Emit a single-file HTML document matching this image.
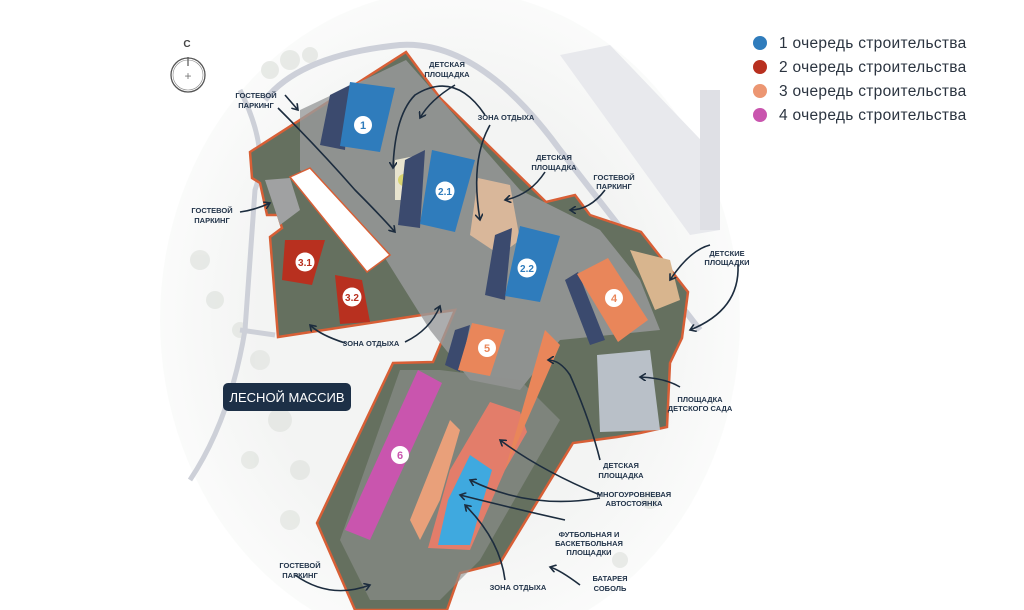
<!DOCTYPE html>
<html><head><meta charset="utf-8"><style>
html,body{margin:0;padding:0;background:#fff;overflow:hidden;width:1024px;height:610px;}
svg{display:block;}
.l{font-family:"Liberation Sans",sans-serif;font-weight:bold;font-size:7.5px;fill:#22344a;text-anchor:middle;}
.g{font-family:"Liberation Sans",sans-serif;font-size:15.5px;fill:#2b3440;letter-spacing:0.3px;}
.n{font-family:"Liberation Sans",sans-serif;font-weight:bold;font-size:11px;text-anchor:middle;}
.a{fill:none;stroke:#1c2c3e;stroke-width:1.6;}
</style></head><body>
<svg width="1024" height="610" viewBox="0 0 1024 610" xmlns="http://www.w3.org/2000/svg">
<defs>
<marker id="ah" markerWidth="8" markerHeight="8" refX="6" refY="4" orient="auto" markerUnits="userSpaceOnUse"><path d="M0,0 L6,4 L0,8" fill="none" stroke="#1c2c3e" stroke-width="1.6"/></marker>
<radialGradient id="fade" cx="0.5" cy="0.5" r="0.6"><stop offset="0.55" stop-color="#f3f4f3"/><stop offset="1" stop-color="#fff"/></radialGradient>
</defs>
<rect width="1024" height="610" fill="#fff"/>
<ellipse cx="450" cy="320" rx="290" ry="330" fill="url(#fade)"/>
<g fill="#e3e6e2" opacity="0.8">
<circle cx="290" cy="60" r="10"/><circle cx="310" cy="55" r="8"/><circle cx="270" cy="70" r="9"/>
<circle cx="200" cy="260" r="10"/><circle cx="215" cy="300" r="9"/><circle cx="260" cy="360" r="10"/><circle cx="280" cy="420" r="12"/>
<circle cx="300" cy="470" r="10"/><circle cx="250" cy="460" r="9"/><circle cx="290" cy="520" r="10"/><circle cx="240" cy="330" r="8"/>
<circle cx="650" cy="500" r="9"/><circle cx="620" cy="560" r="8"/>
</g>
<path d="M240,90 Q270,150 255,190 L245,330 Q230,420 190,480" stroke="#cdd0d8" stroke-width="5" fill="none"/>
<path d="M265,100 Q300,55 400,45 Q480,40 560,150 L700,330" stroke="#cdd0d9" stroke-width="6" fill="none"/>
<path d="M560,55 L610,45 L720,160 L720,230 L690,235 Z" fill="#e8e9ed"/>
<path d="M700,90 L720,90 L720,230 L700,230 Z" fill="#dfe0e5"/>
<path d="M240,330 L275,335" stroke="#cdd0d8" stroke-width="5"/>
<path d="M250,152 L406,52 L440,98 L546,202 L575,195 L590,215 L641,232 L688,292 L682,338 L670,363 L667,427 L640,433 L617,437 L573,443 L500,563 L460,573 L447,610 L355,610 L317,523 L393,363 L433,362 L455,310 L278,337 L270,237 L282,228 L278,215 L267,215 L260,183 L252,178 Z" fill="#65705f" stroke="#d85f36" stroke-width="2.5"/>
<path d="M300,110 L406,60 L520,190 L600,230 L640,280 L660,330 L560,340 L520,390 L470,380 L430,330 L380,250 L300,170 Z" fill="#9a9b9c" opacity="0.8"/>
<path d="M400,370 L440,370 L520,380 L560,420 L480,560 L440,600 L370,600 L340,540 Z" fill="#8f9190" opacity="0.6"/>
<path d="M265,180 L290,178 L300,210 L280,225 Z" fill="#a0a1a2"/>
<path d="M478,178 L510,185 L520,240 L500,255 L470,235 Z" fill="#d9b79a"/>
<path d="M630,250 L670,260 L680,300 L655,310 Z" fill="#d8b58e"/>
<path d="M597,355 L650,350 L660,430 L600,432 Z" fill="#b9c0c8"/>
<path d="M395,160 L420,155 L415,200 L395,200 Z" fill="#e8e4cf"/>
<circle cx="404" cy="180" r="6" fill="#d8d470"/>
<path d="M290,177 L310,168 L390,255 L367,272 Z" fill="#fff" stroke="#d85f36" stroke-width="1.5"/>
<path d="M330,95 L350,85 L345,150 L320,145 Z" fill="#3b4a6e"/>
<path d="M405,160 L425,150 L420,228 L398,225 Z" fill="#3b4a6e"/>
<path d="M495,235 L512,228 L505,300 L485,295 Z" fill="#3b4a6e"/>
<path d="M565,280 L578,272 L605,340 L590,345 Z" fill="#3b4a6e"/>
<path d="M455,330 L470,325 L460,372 L445,365 Z" fill="#3b4a6e"/>
<path d="M350,82 L395,88 L380,152 L340,146 Z" fill="#2f7cbc"/>
<path d="M432,150 L475,160 L455,232 L420,224 Z" fill="#2f7cbc"/>
<path d="M520,226 L560,236 L540,302 L505,296 Z" fill="#2f7cbc"/>
<path d="M285,240 L325,240 L312,285 L282,280 Z" fill="#b8301f"/>
<path d="M335,275 L362,280 L370,322 L340,324 Z" fill="#b8301f"/>
<path d="M577,274 L608,258 L648,320 L618,342 Z" fill="#e9865a"/>
<path d="M472,323 L505,330 L490,376 L458,370 Z" fill="#e9865a"/>
<path d="M418,370 L442,383 L370,540 L345,530 Z" fill="#c955ae"/>
<path d="M490,402 L520,412 L527,432 L505,470 L470,550 L428,548 L450,470 Z" fill="#e37d6a"/>
<path d="M505,470 L545,330 L560,345 L525,425 Z" fill="#e9865a"/>
<path d="M470,455 L492,470 L470,545 L438,545 L448,500 Z" fill="#3fa9df"/>
<path d="M430,470 L450,420 L460,430 L440,500 L420,540 L410,520 Z" fill="#e9a07a"/>
<g class="n">
<circle cx="363" cy="125" r="9" fill="#fff"/><text x="363" y="129" fill="#2f7cbc">1</text>
<circle cx="445" cy="191" r="9.5" fill="#fff"/><text x="445" y="195" fill="#2f7cbc" font-size="10">2.1</text>
<circle cx="527" cy="268" r="9.5" fill="#fff"/><text x="527" y="272" fill="#2f7cbc" font-size="10">2.2</text>
<circle cx="305" cy="262" r="9.5" fill="#fff"/><text x="305" y="266" fill="#b8301f" font-size="10">3.1</text>
<circle cx="352" cy="297" r="9.5" fill="#fff"/><text x="352" y="301" fill="#b8301f" font-size="10">3.2</text>
<circle cx="614" cy="298" r="9" fill="#fff"/><text x="614" y="302" fill="#e9865a">4</text>
<circle cx="487" cy="348" r="9" fill="#fff"/><text x="487" y="352" fill="#e9865a">5</text>
<circle cx="400" cy="455" r="9" fill="#fff"/><text x="400" y="459" fill="#c955ae">6</text>
</g>
<g class="a" marker-end="url(#ah)">
<path d="M455,85 Q430,100 420,118"/>
<path d="M485,115 Q455,70 415,95 Q395,115 393,168"/>
<path d="M490,125 Q470,160 480,220"/>
<path d="M278,108 Q320,150 355,190 Q380,215 395,232"/>
<path d="M285,95 L298,110"/>
<path d="M545,172 Q530,195 505,200"/>
<path d="M605,190 Q590,210 570,210"/>
<path d="M240,212 Q255,210 270,203"/>
<path d="M738,265 Q740,310 690,330"/>
<path d="M710,245 Q690,250 670,280"/>
<path d="M680,387 Q665,378 640,377"/>
<path d="M345,343 Q320,335 310,325"/>
<path d="M405,342 Q430,330 440,306"/>
<path d="M600,460 Q590,420 570,375 Q560,360 548,360"/>
<path d="M600,495 Q540,470 500,440"/>
<path d="M600,498 Q530,510 470,480"/>
<path d="M565,520 Q520,510 460,495"/>
<path d="M505,580 Q500,540 465,505"/>
<path d="M295,575 Q330,600 370,585"/>
<path d="M580,585 Q560,570 550,567"/>
</g>
<g class="l">
<text x="447" y="67">ДЕТСКАЯ</text><text x="447" y="77">ПЛОЩАДКА</text>
<text x="256" y="98">ГОСТЕВОЙ</text><text x="256" y="108">ПАРКИНГ</text>
<text x="506" y="120">ЗОНА ОТДЫХА</text>
<text x="554" y="160">ДЕТСКАЯ</text><text x="554" y="170">ПЛОЩАДКА</text>
<text x="614" y="180">ГОСТЕВОЙ</text><text x="614" y="189">ПАРКИНГ</text>
<text x="212" y="213">ГОСТЕВОЙ</text><text x="212" y="223">ПАРКИНГ</text>
<text x="727" y="256">ДЕТСКИЕ</text><text x="727" y="265">ПЛОЩАДКИ</text>
<text x="371" y="346">ЗОНА ОТДЫХА</text>
<text x="700" y="402">ПЛОЩАДКА</text><text x="700" y="411">ДЕТСКОГО САДА</text>
<text x="621" y="468">ДЕТСКАЯ</text><text x="621" y="478">ПЛОЩАДКА</text>
<text x="634" y="497">МНОГОУРОВНЕВАЯ</text><text x="634" y="506">АВТОСТОЯНКА</text>
<text x="589" y="537">ФУТБОЛЬНАЯ И</text><text x="589" y="546">БАСКЕТБОЛЬНАЯ</text><text x="589" y="555">ПЛОЩАДКИ</text>
<text x="300" y="568">ГОСТЕВОЙ</text><text x="300" y="578">ПАРКИНГ</text>
<text x="610" y="581">БАТАРЕЯ</text><text x="610" y="591">СОБОЛЬ</text>
<text x="518" y="590">ЗОНА ОТДЫХА</text>
</g>
<rect x="223" y="383" width="128" height="28" rx="5" fill="#1d3047"/>
<text x="287" y="402" font-family="Liberation Sans,sans-serif" font-size="13" fill="#fff" text-anchor="middle">ЛЕСНОЙ МАССИВ</text>
<text x="187" y="47" font-family="Liberation Sans,sans-serif" font-weight="bold" font-size="10" fill="#444" text-anchor="middle">С</text>
<circle cx="188" cy="75" r="17" fill="#fff" stroke="#555" stroke-width="1.3"/>
<circle cx="188" cy="75" r="15" fill="none" stroke="#888" stroke-width="0.6"/>
<line x1="188" y1="57" x2="188" y2="66" stroke="#555" stroke-width="1.2"/>
<text x="188" y="80" font-family="Liberation Sans,sans-serif" font-size="12" fill="#777" text-anchor="middle">+</text>
<circle cx="760" cy="43" r="7" fill="#2f7cbc"/><text class="g" x="779" y="48">1 очередь строительства</text>
<circle cx="760" cy="67" r="7" fill="#b8301f"/><text class="g" x="779" y="72">2 очередь строительства</text>
<circle cx="760" cy="91" r="7" fill="#ec9672"/><text class="g" x="779" y="96">3 очередь строительства</text>
<circle cx="760" cy="115" r="7" fill="#c955ae"/><text class="g" x="779" y="120">4 очередь строительства</text>
</svg>
</body></html>
